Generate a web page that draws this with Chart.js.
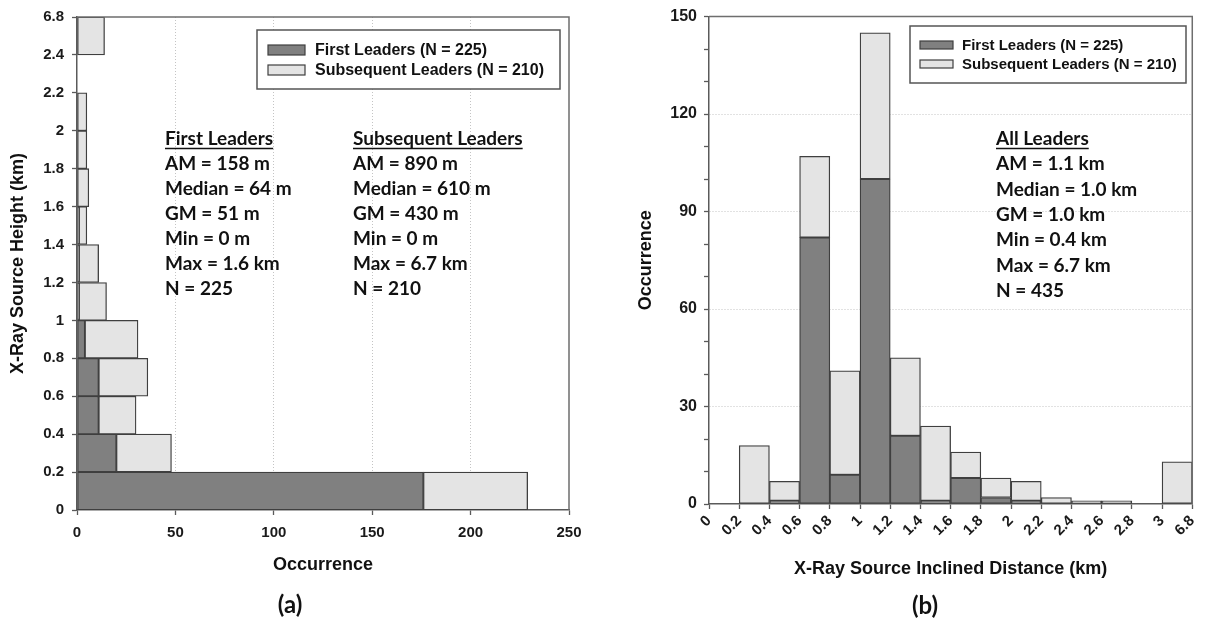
<!DOCTYPE html>
<html>
<head>
<meta charset="utf-8">
<title>X-ray source height and inclined distance</title>
<script src="https://cdn.jsdelivr.net/npm/chart.js@4.4.1/dist/chart.umd.min.js"></script>
<style>
  html, body { margin: 0; padding: 0; background: #ffffff; }
  #wrap { position: relative; width: 1208px; height: 622px; overflow: hidden; }
  #chartA { position: absolute; left: 0; top: 0; }
  #chartB { position: absolute; left: 600px; top: 0; }
</style>
</head>
<body>
<div id="wrap">
  <canvas id="chartA" width="600" height="622"></canvas>
  <canvas id="chartB" width="608" height="622"></canvas>
</div>
<script>
// Panel (a): source height bins (km), listed by bin edge from bottom to top
const heightEdges = ['0', '0.2', '0.4', '0.6', '0.8', '1', '1.2', '1.4', '1.6', '1.8', '2', '2.2', '2.4', '6.8'];
const heightFirst = [176, 20, 11, 11, 4, 1, 1, 1, 0, 0, 0, 0, 0];
const heightSubsequent = [53, 28, 19, 25, 27, 14, 10, 4, 6, 5, 5, 0, 14];

// Panel (b): inclined distance bins (km), listed by bin edge from left to right
const distanceEdges = ['0', '0.2', '0.4', '0.6', '0.8', '1', '1.2', '1.4', '1.6', '1.8', '2', '2.2', '2.4', '2.6', '2.8', '3', '6.8'];
const distanceFirst = [0, 0, 1, 82, 9, 100, 21, 1, 8, 2, 1, 0, 0, 0, 0, 0];
const distanceSubsequent = [0, 18, 6, 25, 32, 45, 24, 23, 8, 6, 6, 2, 1, 1, 0, 13];

const seriesNames = ['First Leaders (N = 225)', 'Subsequent Leaders (N = 210)'];

const statsFirst = ['First Leaders', 'AM = 158 m', 'Median = 64 m', 'GM = 51 m', 'Min = 0 m', 'Max = 1.6 km', 'N = 225'];
const statsSubsequent = ['Subsequent Leaders', 'AM = 890 m', 'Median = 610 m', 'GM = 430 m', 'Min = 0 m', 'Max = 6.7 km', 'N = 210'];
const statsAll = ['All Leaders', 'AM = 1.1 km', 'Median = 1.0 km', 'GM = 1.0 km', 'Min = 0.4 km', 'Max = 6.7 km', 'N = 435'];

// ---- styling ----
const DARK = '#808080';
const LIGHT = '#e4e4e4';
const EDGE = '#3f3f3f';
const AXIS = '#5a5a5a';
const GRID = '#c4c4c4';
const CLEAR = 'rgba(0,0,0,0)';
const SANS = "'Liberation Sans', Arial, sans-serif";
const CAL = "Lato, 'Open Sans', sans-serif";

// Each bin is drawn at its centre on a linear index scale, so tick labels fall on bin edges.
function binPoints(values, horizontal) {
  return values.map((v, i) => horizontal ? { x: v, y: i + 0.5 } : { x: i + 0.5, y: v });
}

function barSet(label, values, color, horizontal) {
  return {
    label: label,
    data: binPoints(values, horizontal),
    backgroundColor: color,
    borderColor: EDGE,
    borderWidth: 1.3,
    borderSkipped: false,
    barPercentage: 1,
    categoryPercentage: 1
  };
}

// Top and right edges of the plot frame
const framePlugin = {
  id: 'frame',
  afterDraw(chart) {
    const { ctx, chartArea: a } = chart;
    ctx.save();
    ctx.strokeStyle = '#6e6e6e';
    ctx.lineWidth = 1.5;
    ctx.beginPath();
    ctx.moveTo(a.left, a.top);
    ctx.lineTo(a.right, a.top);
    ctx.lineTo(a.right, a.bottom);
    ctx.stroke();
    ctx.restore();
  }
};

// Boxed legend inside the plot, summary statistics and the panel letter
const overlayPlugin = {
  id: 'overlay',
  afterDraw(chart, args, opts) {
    const { ctx } = chart;
    ctx.save();
    const lg = opts.legend;
    if (lg) {
      ctx.fillStyle = '#ffffff';
      ctx.fillRect(lg.x, lg.y, lg.w, lg.h);
      ctx.strokeStyle = '#555555';
      ctx.lineWidth = 1.5;
      ctx.strokeRect(lg.x, lg.y, lg.w, lg.h);
      ctx.font = 'bold ' + lg.size + 'px ' + SANS;
      ctx.textBaseline = 'middle';
      ctx.textAlign = 'left';
      chart.data.datasets.forEach((ds, i) => {
        const cy = lg.rows[i];
        ctx.fillStyle = ds.backgroundColor;
        ctx.fillRect(lg.sx, cy - lg.sh / 2, lg.sw, lg.sh);
        ctx.strokeStyle = EDGE;
        ctx.lineWidth = 1.2;
        ctx.strokeRect(lg.sx, cy - lg.sh / 2, lg.sw, lg.sh);
        ctx.fillStyle = '#111111';
        ctx.fillText(ds.label, lg.tx, cy + 1);
      });
    }
    (opts.stats || []).forEach(block => {
      ctx.font = 'bold ' + block.size + 'px ' + CAL;
      ctx.fillStyle = '#111111';
      ctx.textBaseline = 'middle';
      ctx.textAlign = 'left';
      block.lines.forEach((line, k) => {
        const y = block.y + k * block.gap;
        ctx.fillText(line, block.x, y);
        if (k === 0) {
          const w = ctx.measureText(line).width;
          ctx.strokeStyle = '#111111';
          ctx.lineWidth = 1.4;
          ctx.beginPath();
          ctx.moveTo(block.x, y + block.size * 0.5);
          ctx.lineTo(block.x + w, y + block.size * 0.5);
          ctx.stroke();
        }
      });
    });
    if (opts.panel) {
      ctx.font = 'bold ' + opts.panel.size + 'px ' + CAL;
      ctx.fillStyle = '#111111';
      ctx.textAlign = 'center';
      ctx.textBaseline = 'middle';
      ctx.fillText(opts.panel.text, opts.panel.x, opts.panel.y);
    }
    ctx.restore();
  }
};

// ---------- Panel (a): horizontal histogram of source height ----------
new Chart(document.getElementById('chartA'), {
  type: 'bar',
  data: {
    datasets: [
      barSet(seriesNames[0], heightFirst, DARK, true),
      barSet(seriesNames[1], heightSubsequent, LIGHT, true)
    ]
  },
  options: {
    indexAxis: 'y',
    responsive: false,
    animation: false,
    devicePixelRatio: 1,
    layout: { padding: { left: 0, right: 31, top: 16, bottom: 0 } },
    plugins: {
      legend: { display: false },
      tooltip: { enabled: false },
      overlay: {
        legend: { x: 257, y: 30, w: 303, h: 59, sx: 268, sw: 37, sh: 10, tx: 315, rows: [50, 70], size: 16 },
        stats: [
          { x: 165, y: 139, gap: 25, size: 19, lines: statsFirst },
          { x: 353, y: 139, gap: 25, size: 19, lines: statsSubsequent }
        ],
        panel: { text: '(a)', x: 290, y: 605, size: 24 }
      }
    },
    scales: {
      x: {
        type: 'linear',
        min: 0,
        max: 250,
        stacked: true,
        afterFit: s => { s.height = 112; },
        ticks: { stepSize: 50, color: '#1a1a1a', padding: 9, font: { family: SANS, size: 15, weight: 'bold' } },
        grid: {
          color: c => (c.tick && c.tick.value > 0 && c.tick.value < 250) ? GRID : CLEAR,
          lineWidth: 1,
          tickColor: AXIS,
          tickLength: 5,
          tickWidth: 1.3
        },
        border: { color: AXIS, width: 1.5, dash: [1, 2] },
        title: {
          display: true,
          text: 'Occurrence',
          color: '#111111',
          font: { family: SANS, size: 18, weight: 'bold' },
          padding: { top: 0, bottom: 46 }
        }
      },
      y: {
        type: 'linear',
        min: 0,
        max: heightEdges.length - 1,
        stacked: true,
        offset: false,
        afterFit: s => { s.width = 77; },
        ticks: {
          stepSize: 1,
          autoSkip: false,
          color: '#1a1a1a',
          padding: 8,
          font: { family: SANS, size: 15, weight: 'bold' },
          callback: v => heightEdges[v]
        },
        grid: { offset: false, drawOnChartArea: false, tickColor: AXIS, tickLength: 5, tickWidth: 1.3 },
        border: { color: AXIS, width: 1.5 },
        title: {
          display: true,
          text: 'X-Ray Source Height (km)',
          color: '#111111',
          font: { family: SANS, size: 18, weight: 'bold' },
          padding: { top: 7, bottom: 0 }
        }
      }
    }
  },
  plugins: [framePlugin, overlayPlugin]
});

// ---------- Panel (b): histogram of inclined distance ----------
new Chart(document.getElementById('chartB'), {
  type: 'bar',
  data: {
    datasets: [
      barSet(seriesNames[0], distanceFirst, DARK, false),
      barSet(seriesNames[1], distanceSubsequent, LIGHT, false)
    ]
  },
  options: {
    responsive: false,
    animation: false,
    devicePixelRatio: 1,
    layout: { padding: { left: 0, right: 11, top: 16, bottom: 0 } },
    plugins: {
      legend: { display: false },
      tooltip: { enabled: false },
      overlay: {
        legend: { x: 310, y: 26, w: 276, h: 57, sx: 320, sw: 33, sh: 8, tx: 362, rows: [45, 64], size: 15 },
        stats: [
          { x: 396, y: 139, gap: 25.3, size: 19, lines: statsAll }
        ],
        panel: { text: '(b)', x: 325, y: 606, size: 24 }
      }
    },
    scales: {
      x: {
        type: 'linear',
        min: 0,
        max: distanceEdges.length - 1,
        stacked: true,
        offset: false,
        afterFit: s => { s.height = 118; },
        ticks: {
          stepSize: 1,
          autoSkip: false,
          minRotation: 45,
          maxRotation: 45,
          color: '#1a1a1a',
          padding: 3,
          font: { family: SANS, size: 15, weight: 'bold' },
          callback: v => distanceEdges[v]
        },
        grid: { offset: false, drawOnChartArea: false, tickColor: AXIS, tickLength: 5, tickWidth: 1.3 },
        border: { color: AXIS, width: 1.5 },
        title: {
          display: true,
          text: 'X-Ray Source Inclined Distance (km)',
          color: '#111111',
          font: { family: SANS, size: 18, weight: 'bold' },
          padding: { top: 0, bottom: 42 }
        }
      },
      y: {
        type: 'linear',
        min: 0,
        max: 150,
        stacked: true,
        afterFit: s => { s.width = 109; },
        ticks: {
          stepSize: 10,
          autoSkip: false,
          color: '#1a1a1a',
          padding: 7,
          font: { family: SANS, size: 16, weight: 'bold' },
          callback: v => (v % 30 === 0 ? String(v) : '')
        },
        grid: {
          color: c => (c.tick && c.tick.value % 30 === 0 && c.tick.value > 0 && c.tick.value < 150) ? GRID : CLEAR,
          lineWidth: 1,
          tickColor: AXIS,
          tickLength: 5,
          tickWidth: 1.3
        },
        border: { color: AXIS, width: 1.5, dash: [1, 2] },
        title: {
          display: true,
          text: 'Occurrence',
          color: '#111111',
          font: { family: SANS, size: 18, weight: 'bold' },
          padding: { top: 35, bottom: 0 }
        }
      }
    }
  },
  plugins: [framePlugin, overlayPlugin]
});
</script>
</body>
</html>
